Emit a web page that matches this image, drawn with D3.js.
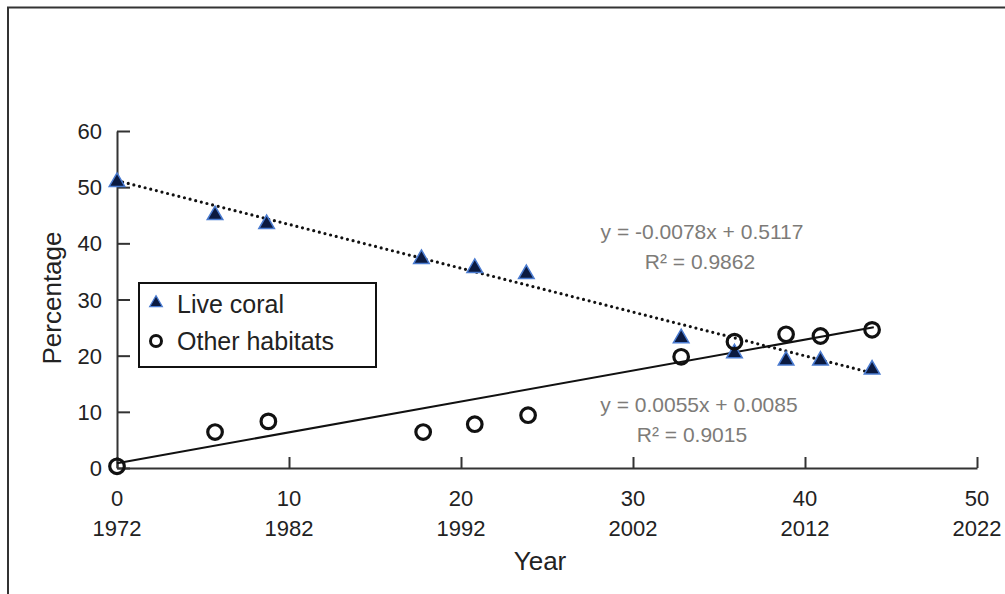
<!DOCTYPE html>
<html>
<head>
<meta charset="utf-8">
<script src="https://cdn.jsdelivr.net/npm/d3@7"></script>
<style>
  body { margin: 0; background: #fff; }
  svg { display: block; }
  text { font-family: "Liberation Sans", Arial, sans-serif; fill: #222; }
</style>
</head>
<body>
<div id="chart"></div>
<script>
// years since 1972
var coralYears = [0, 5.7, 8.7, 17.7, 20.8, 23.8, 32.8, 35.9, 38.9, 40.9, 43.9];
var coralPct   = [51.1, 45.2, 43.6, 37.4, 35.8, 34.7, 23.3, 20.6, 19.3, 19.3, 17.7];
var otherYears = [0, 5.7, 8.8, 17.8, 20.8, 23.9, 32.8, 35.9, 38.9, 40.9, 43.9];
var otherPct   = [0.3, 6.4, 8.3, 6.4, 7.8, 9.4, 19.8, 22.5, 23.8, 23.5, 24.6];

var xTicks = [0, 10, 20, 30, 40, 50];
var xYearLabels = ["1972", "1982", "1992", "2002", "2012", "2022"];
var yTicks = [0, 10, 20, 30, 40, 50, 60];

// trend lines, as printed on the chart (fraction per year)
var coralFit = { slope: -0.0078, intercept: 0.5117, r2: "0.9862" };
var otherFit = { slope: 0.0055, intercept: 0.0085, r2: "0.9015" };
var fitRange = [0, 44];

var width = 1005;
var height = 594;

var svg = d3.select("#chart").append("svg")
    .attr("width", width)
    .attr("height", height);

// frame round the whole figure (runs off right and bottom)
svg.append("rect")
    .attr("x", 8).attr("y", 7.5)
    .attr("width", 1010).attr("height", 600)
    .attr("fill", "none").attr("stroke", "#333").attr("stroke-width", 2);

var x = d3.scaleLinear().domain([0, 50]).range([117, 977]);
var y = d3.scaleLinear().domain([0, 60]).range([468, 131]);

// x axis, ticks pointing up
var xAxis = svg.append("g")
    .attr("transform", "translate(0," + y(0) + ")")
    .call(d3.axisBottom(x).tickValues(xTicks).tickSize(-11).tickSizeOuter(0).tickFormat(""));
xAxis.select(".domain").attr("stroke", "#333").attr("stroke-width", 2);
xAxis.selectAll(".tick line").attr("stroke", "#333").attr("stroke-width", 2);

var xLab = svg.append("g").selectAll("g")
    .data(xTicks).enter().append("g")
    .attr("transform", d => "translate(" + x(d) + ",0)");
xLab.append("text").attr("y", 506).attr("text-anchor", "middle")
    .style("font-size", "22px").text(d => d);
xLab.append("text").attr("y", 536).attr("text-anchor", "middle")
    .style("font-size", "22px").text((d, i) => xYearLabels[i]);

// y axis, ticks pointing right
var yAxis = svg.append("g")
    .attr("transform", "translate(" + x(0) + ",0)")
    .call(d3.axisLeft(y).tickValues(yTicks).tickSize(-13).tickSizeOuter(0).tickFormat(""));
yAxis.select(".domain").attr("stroke", "#333").attr("stroke-width", 2);
yAxis.selectAll(".tick line").attr("stroke", "#333").attr("stroke-width", 2);

svg.append("g").selectAll("text")
    .data(yTicks).enter().append("text")
    .attr("x", 102).attr("y", d => y(d) + 8)
    .attr("text-anchor", "end")
    .style("font-size", "22px")
    .text(d => d);

svg.append("text")
    .attr("x", 540).attr("y", 570).attr("text-anchor", "middle")
    .style("font-size", "26px").text("Year");

svg.append("text")
    .attr("transform", "translate(61,298) rotate(-90)")
    .attr("text-anchor", "middle")
    .style("font-size", "26px").text("Percentage");

// trend lines
var line = d3.line().x(d => x(d[0])).y(d => y(d[1]));
function fitPoints(fit) {
    return fitRange.map(t => [t, (fit.intercept + fit.slope * t) * 100]);
}

svg.append("path")
    .attr("d", line(fitPoints(otherFit)))
    .attr("fill", "none").attr("stroke", "#111").attr("stroke-width", 2);

svg.append("path")
    .attr("d", line(fitPoints(coralFit)))
    .attr("fill", "none").attr("stroke", "#111").attr("stroke-width", 3.2)
    .attr("stroke-linecap", "round").attr("stroke-dasharray", "0,5.8");

// live coral triangles
var tri = d3.symbol().type(d3.symbolTriangle).size(105);
svg.append("g").selectAll("path")
    .data(coralYears.map((t, i) => [t, coralPct[i]])).enter().append("path")
    .attr("d", tri)
    .attr("transform", d => "translate(" + x(d[0]) + "," + (y(d[1]) + 1) + ")")
    .attr("fill", "#0b1a40").attr("stroke", "#4a7bd0").attr("stroke-width", 1.5);

// other habitats circles
svg.append("g").selectAll("circle")
    .data(otherYears.map((t, i) => [t, otherPct[i]])).enter().append("circle")
    .attr("cx", d => x(d[0])).attr("cy", d => y(d[1]))
    .attr("r", 7.3)
    .attr("fill", "none").attr("stroke", "#111").attr("stroke-width", 3.2);

// equation labels
function eqText(fit) {
    var s = fit.slope < 0 ? "-" + Math.abs(fit.slope).toFixed(4) : fit.slope.toFixed(4);
    return "y = " + s + "x + " + fit.intercept.toFixed(4);
}
var eqColor = "#7d7b78";
svg.append("text").attr("x", 702).attr("y", 239).attr("text-anchor", "middle")
    .style("font-size", "21px").style("fill", eqColor).text(eqText(coralFit));
svg.append("text").attr("x", 700).attr("y", 269).attr("text-anchor", "middle")
    .style("font-size", "21px").style("fill", eqColor).text("R² = " + coralFit.r2);
svg.append("text").attr("x", 699).attr("y", 412).attr("text-anchor", "middle")
    .style("font-size", "21px").style("fill", eqColor).text(eqText(otherFit));
svg.append("text").attr("x", 692).attr("y", 442).attr("text-anchor", "middle")
    .style("font-size", "21px").style("fill", eqColor).text("R² = " + otherFit.r2);

// legend
var legend = svg.append("g");
legend.append("rect")
    .attr("x", 139).attr("y", 283).attr("width", 237).attr("height", 84)
    .attr("fill", "#fff").attr("stroke", "#111").attr("stroke-width", 2);
legend.append("path")
    .attr("d", d3.symbol().type(d3.symbolTriangle).size(70))
    .attr("transform", "translate(156,303)")
    .attr("fill", "#0b1a40").attr("stroke", "#4a7bd0").attr("stroke-width", 1.2);
legend.append("text").attr("x", 177).attr("y", 313)
    .style("font-size", "25px").text("Live coral");
legend.append("circle").attr("cx", 156).attr("cy", 341).attr("r", 5.5)
    .attr("fill", "none").attr("stroke", "#111").attr("stroke-width", 3);
legend.append("text").attr("x", 177).attr("y", 350)
    .style("font-size", "25px").text("Other habitats");
</script>
</body>
</html>
